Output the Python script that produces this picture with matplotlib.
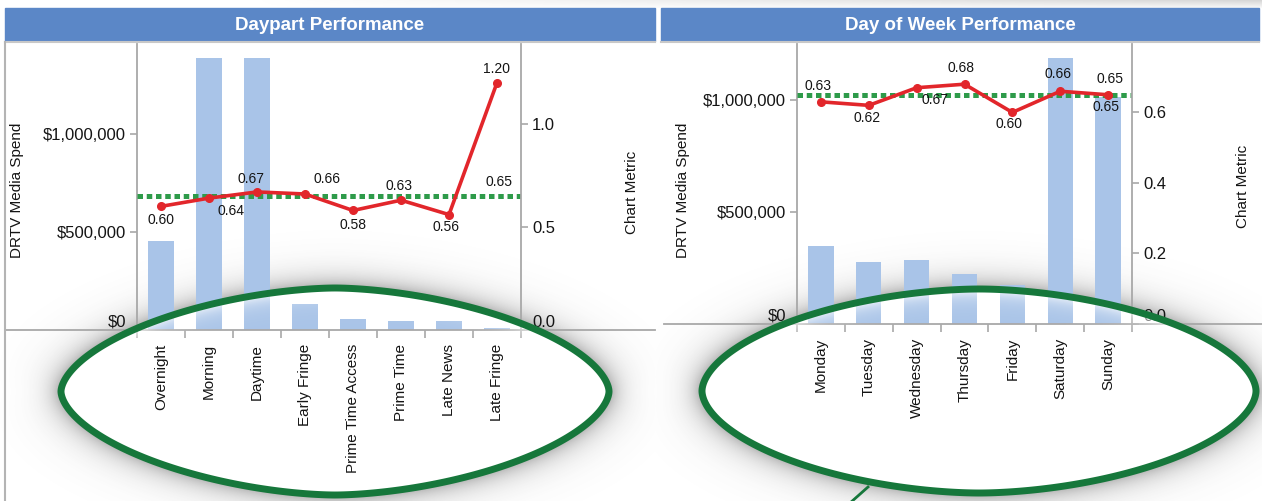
import matplotlib
matplotlib.use("Agg")
import matplotlib.pyplot as plt
import numpy as np
from matplotlib.patches import Polygon, Rectangle
from matplotlib.ticker import FuncFormatter

plt.rcParams['font.family'] = ['Liberation Sans', 'DejaVu Sans']

# Daypart panel
DAYPARTS = ["Overnight", "Morning", "Daytime", "Early Fringe",
            "Prime Time Access", "Prime Time", "Late News", "Late Fringe"]
DAYPART_SPEND = [454000, 1388000, 1388000, 133000, 58000, 45000, 48000, 10000]
DAYPART_METRIC = [0.60, 0.64, 0.67, 0.66, 0.58, 0.63, 0.56, 1.20]
DAYPART_AVG = 0.65

# Day of week panel
DAYS = ["Monday", "Tuesday", "Wednesday", "Thursday", "Friday", "Saturday", "Sunday"]
DAY_SPEND = [348000, 277000, 286000, 225000, 172000, 1188000, 1015000]
DAY_METRIC = [0.63, 0.62, 0.67, 0.68, 0.60, 0.66, 0.65]
DAY_AVG = 0.65

W, H = 1262, 501
BAR_COLOR = "#A9C4E8"
RED = "#E2262B"
DOT_GREEN = "#2E9B4A"
RING_GREEN = "#16773B"
HEADER_BLUE = "#5B87C7"
AXIS_GREY = "#A8A8A8"
TEXT = "#141414"

fig = plt.figure(figsize=(W / 100, H / 100), dpi=100)
fig.patch.set_facecolor("white")

# back layer: drop shadow of the highlight rings (drawn under the charts)
back = fig.add_axes([0, 0, 1, 1])
back.set_xlim(0, W)
back.set_ylim(H, 0)
back.axis('off')
back.set_zorder(-1)

# front layer: headers, baselines, rings
ov = fig.add_axes([0, 0, 1, 1])
ov.set_xlim(0, W)
ov.set_ylim(H, 0)
ov.axis('off')
ov.patch.set_alpha(0)
ov.set_zorder(5)


def px_axes(x0, y0, x1, y1):
    a = fig.add_axes([x0 / W, 1 - y1 / H, (x1 - x0) / W, (y1 - y0) / H])
    a.patch.set_visible(False)
    return a


def draw_panel(box, cats, spend, metric, avg, spend_max, metric_max,
               metric_ticks, offsets, avg_offset):
    ax = px_axes(*box)
    x = np.arange(len(cats))
    ax.bar(x, spend, width=0.53, color=BAR_COLOR, zorder=2)
    ax.set_xlim(-0.5, len(cats) - 0.5)
    ax.set_ylim(0, spend_max)
    ax.set_yticks([0, 500000, 1000000])
    ax.yaxis.set_major_formatter(FuncFormatter(lambda v, p: f"${v:,.0f}"))
    ax.set_xticks(x)
    ax.set_xticklabels(cats, rotation=90, fontsize=11, color=TEXT)
    ax.set_xticks(np.arange(len(cats) + 1) - 0.5, minor=True)
    ax.tick_params(axis='x', which='major', length=0, pad=10)
    ax.tick_params(axis='x', which='minor', length=6, color=AXIS_GREY, width=1.2)
    ax.tick_params(axis='y', length=5, color=AXIS_GREY, width=1.2,
                   labelsize=12, labelcolor=TEXT, pad=3)
    for s in ["top", "bottom", "right"]:
        ax.spines[s].set_visible(False)
    ax.spines["left"].set_color(AXIS_GREY)
    ax.spines["left"].set_linewidth(1.3)
    # the zero label sits just above the baseline
    ax.yaxis.get_major_ticks()[0].label1.set_va('bottom')

    ax2 = ax.twinx()
    ax2.patch.set_visible(False)
    ax2.axhline(avg, color=DOT_GREEN, lw=3.6, ls=(0, (1.1, 0.75)), zorder=2)
    ax2.plot(x, metric, color=RED, lw=2.6, marker='o', ms=5.5, zorder=3)
    ax2.set_ylim(0, metric_max)
    ax2.set_yticks(metric_ticks)
    ax2.yaxis.set_major_formatter(FuncFormatter(lambda v, p: f"{v:.1f}"))
    ax2.tick_params(axis='y', length=5, color=AXIS_GREY, width=1.2,
                    labelsize=12, labelcolor=TEXT, pad=3)
    for s in ["top", "bottom", "left"]:
        ax2.spines[s].set_visible(False)
    ax2.spines["right"].set_color(AXIS_GREY)
    ax2.spines["right"].set_linewidth(1.3)
    ax2.yaxis.get_major_ticks()[0].label2.set_va('bottom')

    for xi, v, off in zip(x, metric, offsets):
        ax2.annotate(f"{v:.2f}", (xi, v), xytext=off, textcoords='offset pixels',
                     ha='center', va='center', fontsize=10, color=TEXT, zorder=4)
    ax2.annotate(f"{avg:.2f}", (x[-1], avg), xytext=avg_offset,
                 textcoords='offset pixels', ha='center', va='center',
                 fontsize=10, color=TEXT, zorder=4)
    return ax, ax2


draw_panel((137, 44, 521, 330), DAYPARTS, DAYPART_SPEND, DAYPART_METRIC,
           DAYPART_AVG, 1459000, 1.388, [0.0, 0.5, 1.0],
           [(0, -14), (22, -13), (-6, 13), (22, 15), (0, -15), (-2, 14), (-3, -12), (-1, 14)],
           (2, 14))
draw_panel((797, 44, 1132, 324), DAYS, DAY_SPEND, DAY_METRIC,
           DAY_AVG, 1250000, 0.794, [0.0, 0.2, 0.4, 0.6],
           [(-3, 16), (-2, -13), (18, -12), (-4, 16), (-3, -12), (-2, 17), (2, 16)],
           (-2, -12))

# axis titles
for xp, yp, txt in [(17, 190, "DRTV Media Spend"), (632, 192, "Chart Metric"),
                    (683, 190, "DRTV Media Spend"), (1243, 186, "Chart Metric")]:
    fig.text(xp / W, 1 - yp / H, txt, rotation=90, ha='center', va='center',
             fontsize=11, color=TEXT)

# top grey strip
grad = np.zeros((8, W, 4))
grad[..., :3] = 0.55
grad[..., 3] = np.clip((np.arange(W) - 250) / (W - 250), 0, 1)[None, :] * 0.35 \
    * np.linspace(1, 0.2, 8)[:, None]
ov.imshow(grad, extent=(0, W, 8, 0), aspect='auto', zorder=0)

# headers
for x0, x1, title in [(5, 655, "Daypart Performance"),
                      (661, 1259, "Day of Week Performance")]:
    ov.add_patch(Rectangle((x0, 8), x1 - x0, 33, color=HEADER_BLUE, zorder=1))
    ov.plot([x0, x1], [42, 42], color="#C8C8C8", lw=1.5, zorder=1)
    ov.text((x0 + x1) / 2, 25, title, color="white", fontsize=13.5,
            fontweight='bold', ha='center', va='center', zorder=2)

# baselines and panel border
ov.plot([5, 655], [330, 330], color=AXIS_GREY, lw=1.3, zorder=1)
ov.plot([664, W], [324, 324], color=AXIS_GREY, lw=1.3, zorder=1)
ov.plot([5, 5], [42, H], color="#B4B4B4", lw=1.5, zorder=1)

# highlight rings: slightly pointed ellipses (superellipse), shadow + inner glow
rings = [(335, 391.5, 274, 103.5, 1.72), (979, 391, 277, 102, 1.8)]
yy, xx = np.mgrid[0:H, 0:W] + 0.5
shadow = np.zeros((H, W, 4))
glow = np.zeros((H, W, 4))
for cx, cy, a, b, n in rings:
    u = np.abs(xx - cx) / a
    v = np.abs(yy - cy) / b
    r = (u ** n + v ** n) ** (1 / n)
    gy, gx = np.gradient(r)
    d = (r - 1) / np.maximum(np.hypot(gx, gy), 1e-9)
    out = (d > 0) & (r < 1.6)
    a_out = np.where(out, 0.5 * np.exp(-d / 12.0), 0)
    sel = a_out > shadow[..., 3]
    shadow[sel, :3] = 0.3
    shadow[sel, 3] = a_out[sel]
    inside = d <= 0
    glow[inside, :3] = 1.0
    glow[inside, 3] = 0.95 * np.exp(d[inside] / 8.0)
back.imshow(shadow, extent=(0, W, H, 0), aspect='auto', interpolation='bilinear')
ov.imshow(glow, extent=(0, W, H, 0), aspect='auto', zorder=3, interpolation='bilinear')

t = np.linspace(0, 2 * np.pi, 720)
for cx, cy, a, b, n in rings:
    c, s = np.cos(t), np.sin(t)
    px = cx + a * np.sign(c) * np.abs(c) ** (2 / n)
    py = cy + b * np.sign(s) * np.abs(s) ** (2 / n)
    ov.add_patch(Polygon(np.column_stack([px, py]), closed=True, fill=False,
                         edgecolor=RING_GREEN, lw=5.0, zorder=4))
ov.plot([850, 868], [503, 487], color=RING_GREEN, lw=2.0, zorder=4)

fig.savefig("out.png", dpi=100)
